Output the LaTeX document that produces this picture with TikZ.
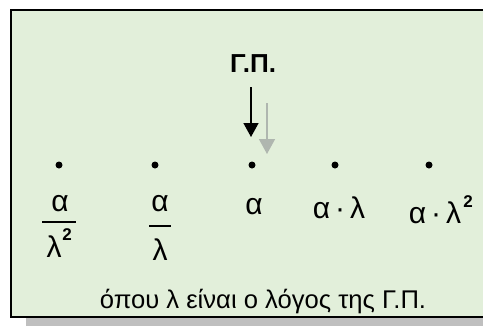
\documentclass[tikz,border=0pt]{standalone}
\usepackage{fontspec}
\setmainfont{Liberation Sans}
\usetikzlibrary{arrows.meta}
\definecolor{boxgreen}{RGB}{226,239,218}
\definecolor{shadowgray}{RGB}{191,191,191}
\definecolor{arrowgray}{RGB}{175,182,175}
\begin{document}
\begin{tikzpicture}[x=1pt,y=-1pt,
  lbl/.style={inner sep=0pt,font=\fontsize{30}{32}\selectfont},
  pt/.style={circle,fill=black,inner sep=0pt,minimum size=7pt},
  fbar/.style={line width=1.6pt},
  sup/.style={inner sep=0pt,font=\bfseries\fontsize{17}{18}\selectfont}]
\useasboundingbox (0,0) rectangle (483,327);
\fill[shadowgray] (26,30) rectangle (500,326);
\draw[line width=2.2pt,fill=boxgreen] (11,10) rectangle (495,317);
% title and arrows
\node[inner sep=0pt,font=\bfseries\fontsize{26}{28}\selectfont] (gp) at (253,64) {Γ.Π.};
\coordinate (a1s) at (251,87);
\coordinate (a1e) at (251,137);
\coordinate (a2s) at (267,103);
\coordinate (a2e) at (267,154);
\draw[line width=1.5pt,-{Triangle[width=15pt,length=14pt]}] (a1s) -- (a1e);
\draw[arrowgray,line width=1.5pt,-{Triangle[width=16pt,length=15pt]}] (a2s) -- (a2e);
% dots
\node[pt] (d1) at (59,165) {};
\node[pt] (d2) at (155,165) {};
\node[pt] (d3) at (252,165) {};
\node[pt] (d4) at (335,165) {};
\node[pt] (d5) at (429,165) {};
% labels
\node[lbl] (n1) at (60,204) {α};
\draw[fbar] (42,222) -- (76,222);
\node[lbl] (l1) at (54,247) {λ};
\node[sup] (s1) at (67,235) {2};
\node[lbl] (n2) at (160,204) {α};
\draw[fbar] (149,226) -- (171,226);
\node[lbl] (l2) at (160,250) {λ};
\node[lbl] (n3) at (254,207) {α};
\node[lbl] (n4) at (339,208) {α\,·\,λ};
\node[lbl] (n5) at (435,213) {α\,·\,λ};
\node[sup] (s5) at (468,202) {2};
% bottom text
\node[inner sep=0pt,font=\fontsize{25.6}{28}\selectfont] (note) at (263,302) {όπου λ είναι ο λόγος της Γ.Π.};
\end{tikzpicture}
\end{document}
